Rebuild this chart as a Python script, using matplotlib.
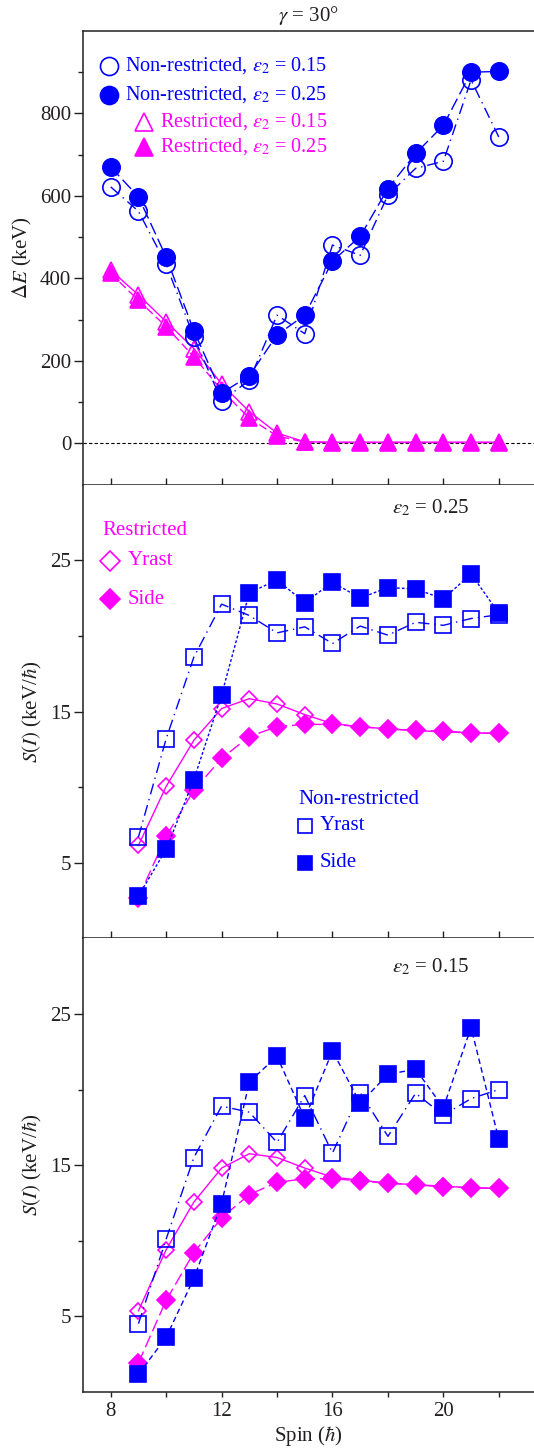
import numpy as np
import matplotlib
matplotlib.use("Agg")
from matplotlib import pyplot as plt

plt.rcParams['font.family'] = ['Liberation Serif', 'DejaVu Serif']
plt.rcParams['mathtext.fontset'] = 'stix'
plt.rcParams['font.size'] = 15

BLUE = '#0000ff'
MAGENTA = '#ff00ff'
INK = '#231f20'

# energy splitting, gamma = 30 deg
spin_de = np.arange(8, 23)
de_nr_015 = [622, 563, 434, 258, 103, 153, 311, 266, 481, 456, 602, 667, 684, 881, 743]
de_nr_025 = [670, 598, 452, 273, 122, 164, 263, 311, 442, 502, 618, 703, 771, 900, 902]
de_r_015 = [420, 360, 295, 230, 144, 77, 25, 4, 3, 3, 3, 3, 3, 3, 3]
de_r_025 = [412, 347, 283, 210, 129, 61, 18, 3, 2, 2, 2, 2, 2, 2, 2]

# staggering S(I)
spin_s = np.arange(9, 23)
s25_nr_yrast = [6.7, 13.2, 18.6, 22.1, 21.35, 20.2, 20.6, 19.5, 20.65, 20.05, 20.9, 20.7, 21.15, 21.4]
s25_nr_side = [2.8, 5.9, 10.5, 16.1, 22.85, 23.7, 22.2, 23.55, 22.5, 23.2, 23.1, 22.45, 24.1, 21.5]
s25_r_yrast = [6.15, 10.05, 13.1, 15.2, 15.85, 15.5, 14.8, 14.2, 14.0, 13.85, 13.75, 13.65, 13.6, 13.55]
s25_r_side = [2.7, 6.75, 9.8, 11.9, 13.35, 14.0, 14.15, 14.15, 14.0, 13.85, 13.75, 13.7, 13.6, 13.55]

s15_nr_yrast = [4.5, 10.1, 15.5, 18.9, 18.5, 16.5, 19.6, 15.8, 19.8, 16.9, 19.75, 18.3, 19.4, 20.0]
s15_nr_side = [1.15, 3.6, 7.5, 12.45, 20.5, 22.2, 18.1, 22.55, 19.1, 21.0, 21.35, 18.8, 24.1, 16.7]
s15_r_yrast = [5.35, 9.4, 12.55, 14.8, 15.75, 15.5, 14.8, 14.2, 14.0, 13.8, 13.7, 13.6, 13.5, 13.45]
s15_r_side = [1.9, 6.05, 9.2, 11.5, 13.05, 13.85, 14.1, 14.1, 13.95, 13.8, 13.7, 13.55, 13.5, 13.45]

fig = plt.figure(figsize=(5.34, 14.48), dpi=100)
L, W = 0.1554, 0.8446
ax1 = fig.add_axes([L, 0.6653, W, 0.3133])
ax2 = fig.add_axes([L, 0.3519, W, 0.3134])
ax3 = fig.add_axes([L, 0.0389, W, 0.3130])

DASHDOT = (0, (8, 3.5, 1, 3.5))
LONGDASH = (0, (9, 3.5))


def series(ax, x, y, color, marker, filled, ls, ms, z):
    # open symbols are hollow, so the joining line shows through them
    ax.plot(x, y, color=color, lw=1.0, ls=ls, marker=marker, ms=ms,
            mfc=color if filled else 'none', mec=color, mew=1.2, zorder=z)


for ax in (ax1, ax2, ax3):
    ax.set_xlim(7, 23.27)
    ax.spines['right'].set_visible(False)
    for s in ax.spines.values():
        s.set_color(INK)
        s.set_linewidth(1.1)
    ax.tick_params(axis='y', which='both', direction='out', color=INK,
                   labelcolor=INK, labelsize=15, width=1.0, pad=2)
    ax.tick_params(axis='y', which='major', length=6.5)
    ax.tick_params(axis='y', which='minor', length=3.5)

for ax in (ax2, ax3):
    ax.spines['top'].set_visible(False)

for ax in (ax1, ax2):
    ax.set_xticks(np.arange(8, 23, 2))
    ax.tick_params(axis='x', which='major', direction='inout', length=9.5,
                   width=1.0, color=INK, labelbottom=False)

ax3.set_xticks([8, 12, 16, 20])
ax3.set_xticks([10, 14, 18, 22], minor=True)
ax3.tick_params(axis='x', which='both', direction='out', length=3.8, width=1.0,
                color=INK, labelcolor=INK, labelsize=15, pad=3.5)
ax3.set_xlabel('Spin ($\\hbar$)', fontsize=15, color=INK, labelpad=2)

# --- top: energy difference
ax1.set_ylim(-100, 1000)
ax1.set_yticks([0, 200, 400, 600, 800])
ax1.set_yticks([100, 300, 500, 700, 900], minor=True)
ax1.axhline(0, color='black', lw=0.8, ls=(0, (3, 2)), zorder=1)
series(ax1, spin_de, de_r_025, MAGENTA, '^', True, (0, (6, 3)), 12, 3)
series(ax1, spin_de, de_r_015, MAGENTA, '^', False, '-', 12, 4)
series(ax1, spin_de, de_nr_015, BLUE, 'o', False, DASHDOT, 12.5, 5)
series(ax1, spin_de, de_nr_025, BLUE, 'o', True, LONGDASH, 12.5, 6)
ax1.set_ylabel('$\\Delta E$ (keV)', fontsize=15, color=INK)
ax1.yaxis.set_label_coords(-0.109, 0.5)
ax1.set_title('$\\gamma$ = 30°', fontsize=15, color=INK, pad=7)

keys = [('o', BLUE, 0.057, 'Non-restricted, $\\varepsilon_2$ = 0.15', False),
        ('o', BLUE, 0.057, 'Non-restricted, $\\varepsilon_2$ = 0.25', True),
        ('^', MAGENTA, 0.135, 'Restricted, $\\varepsilon_2$ = 0.15', False),
        ('^', MAGENTA, 0.135, 'Restricted, $\\varepsilon_2$ = 0.25', True)]
rows_y = [0.9235, 0.859, 0.7994, 0.7443]
for (mk, col, mx, label, filled), yy in zip(keys, rows_y):
    ax1.plot([mx], [yy], transform=ax1.transAxes, marker=mk, ms=13, ls='none',
             mfc=col if filled else 'none', mec=col, mew=1.2, clip_on=False)
    ax1.text(0.541, yy, label, transform=ax1.transAxes, ha='right', va='center',
             color=col, fontsize=14.6)

# --- middle and bottom: staggering
panels = [(ax2, s25_nr_yrast, s25_nr_side, s25_r_yrast, s25_r_side,
           (0, (2, 1.5)), '0.25', 0.9487),
          (ax3, s15_nr_yrast, s15_nr_side, s15_r_yrast, s15_r_side,
           (0, (4, 2.5)), '0.15', 0.938)]
for ax, nry, nrs, ry, rs, side_ls, eps, ey in panels:
    ax.set_ylim(0, 30)
    ax.set_yticks([5, 15, 25])
    ax.set_yticks([10, 20], minor=True)
    series(ax, spin_s, ry, MAGENTA, 'D', False, '-', 8.5, 3)
    series(ax, spin_s, rs, MAGENTA, 'D', True, LONGDASH, 9.2, 4)
    series(ax, spin_s, nry, BLUE, 's', False, DASHDOT, 11.5, 5)
    series(ax, spin_s, nrs, BLUE, 's', True, side_ls, 12, 6)
    ax.set_ylabel('$S(I)$ (keV/$\\hbar$)', fontsize=15, color=INK)
    ax.yaxis.set_label_coords(-0.086, 0.5)
    ax.text(0.685, ey, '$\\varepsilon_2$ = ' + eps, transform=ax.transAxes,
            ha='left', va='center', color=INK, fontsize=15)

# key for the middle panel
ax2.text(0.042, 0.898, 'Restricted', transform=ax2.transAxes, ha='left',
         va='center', color=MAGENTA, fontsize=15)
for yy, filled, label in [(0.8325, False, 'Yrast'), (0.7475, True, 'Side')]:
    ax2.plot([0.06], [yy], transform=ax2.transAxes, marker='D', ms=10, ls='none',
             mfc=MAGENTA if filled else 'none', mec=MAGENTA, mew=1.2)
    ax2.text(0.0998, yy, label, transform=ax2.transAxes, ha='left', va='center',
             color=MAGENTA, fontsize=15)

ax2.text(0.4767, 0.3052, 'Non-restricted', transform=ax2.transAxes, ha='left',
         va='center', color=BLUE, fontsize=15)
for yy, filled, label in [(0.2479, False, 'Yrast'), (0.1664, True, 'Side')]:
    ax2.plot([0.492], [yy], transform=ax2.transAxes, marker='s', ms=9.5, ls='none',
             mfc=BLUE if filled else 'none', mec=BLUE, mew=1.2)
    ax2.text(0.5255, yy, label, transform=ax2.transAxes, ha='left', va='center',
             color=BLUE, fontsize=15)

fig.savefig('out.png', dpi=100)
